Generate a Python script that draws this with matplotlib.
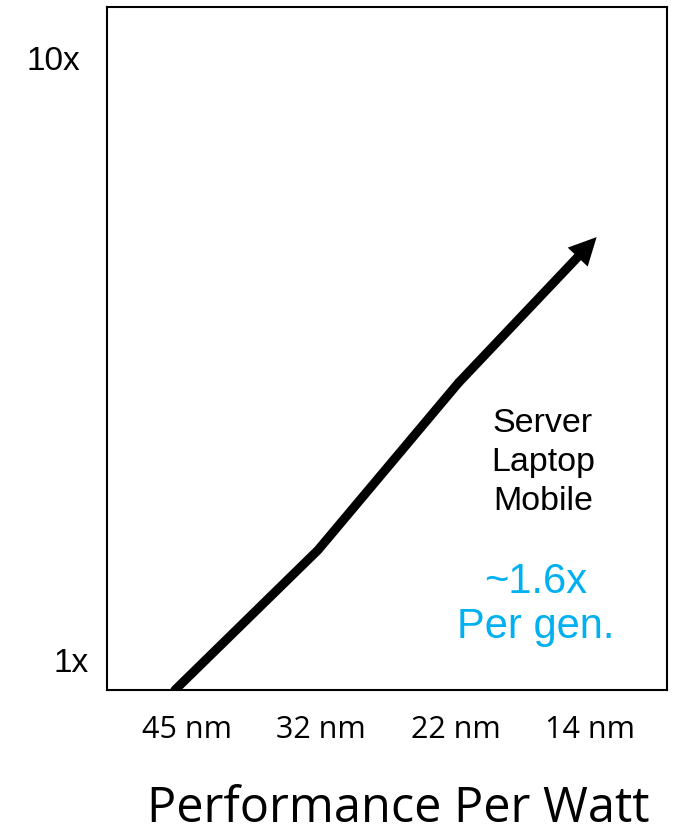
import matplotlib
matplotlib.use("Agg")
import matplotlib.pyplot as plt
from matplotlib.transforms import ScaledTranslation

# Data
nodes = ["45 nm", "32 nm", "22 nm", "14 nm"]
node_pos = [0, 1, 2, 3]
line_x = [-0.09, 0.975, 2.02]
line_y = [0.892, 1.523, 2.885]
tip_x, tip_y = 3.05, 5.04
ytick_vals = [1, 10]
ytick_labels = ["1x", "10x"]
segments_text = "Server\nLaptop\nMobile"
gain_text = "~1.6x\nPer gen."
title = "Performance Per Watt"

W, H = 678, 826
fig = plt.figure(figsize=(W / 100, H / 100), dpi=100)
ax = fig.add_axes([107 / W, 1 - 690 / H, 560 / W, 683 / H])
ax.set_yscale("log")
ax.set_xlim(-0.596, 3.574)
ax.set_ylim(0.892, 12.15)

for s in ax.spines.values():
    s.set_linewidth(1.5)
    s.set_color("black")

LW = 6.5
ax.plot(line_x, line_y, color="black", lw=LW, solid_capstyle="round",
        solid_joinstyle="round")
# shaft of last segment, stopping inside the arrow head
ax.annotate("", xy=(tip_x, tip_y), xytext=(line_x[-1], line_y[-1]),
            arrowprops=dict(arrowstyle="-", color="black", lw=LW,
                            shrinkA=0, shrinkB=15, capstyle="butt"))
# filled arrow head only
ax.annotate("", xy=(tip_x, tip_y), xytext=(line_x[-1], line_y[-1]),
            arrowprops=dict(arrowstyle="-|>,head_length=1.8,head_width=0.9",
                            color="black", lw=0, shrinkA=0, shrinkB=0,
                            mutation_scale=11))

ax.set_xticks(node_pos)
ax.set_xticklabels(nodes, fontsize=22, family="Open Sans")
ax.tick_params(axis="x", length=0, pad=18)
ax.set_yticks(ytick_vals)
ax.set_yticklabels(ytick_labels, fontsize=24, family="Liberation Sans")
ax.tick_params(axis="y", length=0, pad=13)
ax.minorticks_off()
for lab in ax.get_yticklabels():
    if lab.get_text() == "10x":
        lab.set_transform(lab.get_transform() + ScaledTranslation(-9 / 100, 0, fig.dpi_scale_trans))

fig.text(543 / W, 1 - 510 / H, segments_text, ha="center", va="baseline",
         fontsize=24.5, family="Liberation Sans", linespacing=1.33, color="black")
fig.text(536 / W, 1 - 638 / H, gain_text, ha="center", va="baseline",
         fontsize=30, family="Liberation Sans", linespacing=1.15, color="#00B0F0")
fig.text(398 / W, 1 - 822 / H, title, ha="center", va="baseline",
         fontsize=35, family="Open Sans", color="black")

fig.savefig("out.png", dpi=100)
